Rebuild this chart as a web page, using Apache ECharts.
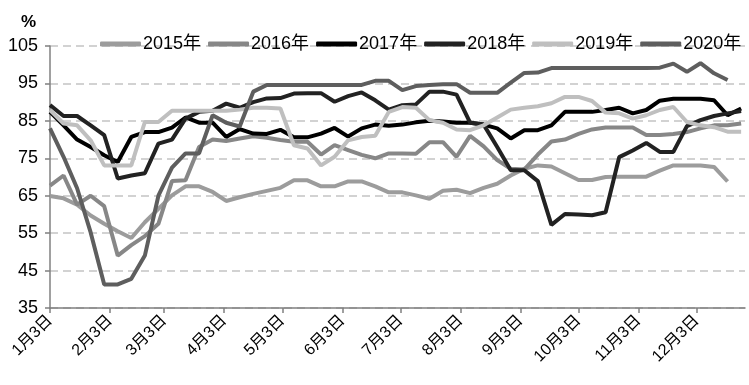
<!DOCTYPE html>
<html>
<head>
<meta charset="utf-8">
<script src="https://cdn.jsdelivr.net/npm/echarts@6/dist/echarts.min.js"></script>
<style>
  html, body { margin: 0; padding: 0; background: #fff; }
  #chart { width: 749px; height: 385px; }
</style>
</head>
<body>
<div id="chart"></div>
<script>
// weekly readings, first point on 1月3日, one point every 7 days
const years = ["2015年", "2016年", "2017年", "2018年", "2019年", "2020年"];

const tickDays = [0, 31, 59, 90, 120, 151, 181, 212, 243, 273, 304, 334];
const tickLabels = ["1月3日", "2月3日", "3月3日", "4月3日", "5月3日", "6月3日",
  "7月3日", "8月3日", "9月3日", "10月3日", "11月3日", "12月3日"];

const y2015 = [64.9, 64.3, 62.6, 59.7, 57.5, 55.5, 53.7, 57.9, 61.5, 65.1, 67.5, 67.5, 66.0,
  63.6, 64.6, 65.5, 66.3, 67.1, 69.1, 69.1, 67.5, 67.5, 68.8, 68.8, 67.5, 65.9, 65.9,
  65.1, 64.2, 66.3, 66.6, 65.7, 67.1, 68.2, 70.4, 72.2, 73.1, 72.8, 71.0, 69.2, 69.2,
  70.0, 70.1, 70.1, 70.1, 71.7, 73.1, 73.1, 73.1, 72.7, 68.8];
const y2016 = [67.7, 70.4, 62.6, 65.0, 62.2, 49.0, 51.8, 54.2, 57.5, 68.9, 69.1, 78.0, 80.0,
  79.6, 80.3, 80.9, 80.5, 79.9, 79.4, 79.4, 76.0, 78.5, 77.2, 75.9, 75.0, 76.3, 76.3,
  76.2, 79.3, 79.3, 75.4, 81.0, 78.2, 74.5, 72.2, 72.0, 76.0, 79.5, 80.0, 81.5, 82.7,
  83.2, 83.2, 83.2, 81.2, 81.2, 81.5, 82.0, 83.0, 83.8, 83.8, 84.3];
const y2017 = [87.4, 83.8, 80.0, 78.0, 75.8, 74.0, 80.7, 82.0, 82.0, 83.2, 85.9, 84.5, 84.5,
  80.7, 82.8, 81.6, 81.5, 82.6, 80.6, 80.6, 81.6, 83.1, 80.8, 83.0, 84.0, 83.7, 84.0,
  84.6, 85.0, 84.8, 84.5, 84.5, 84.0, 83.0, 80.3, 82.5, 82.5, 83.8, 87.4, 87.4, 87.4,
  87.9, 88.5, 87.0, 87.9, 90.4, 90.9, 90.9, 90.9, 90.5, 86.5, 88.3];
const y2018 = [89.2, 86.3, 86.3, 83.8, 81.2, 69.6, 70.4, 71.0, 78.9, 80.0, 85.6, 87.4, 87.7,
  89.6, 88.5, 90.0, 91.0, 91.1, 92.3, 92.4, 92.4, 90.1, 91.6, 92.6, 90.5, 88.0, 89.2,
  89.4, 92.8, 92.8, 92.0, 84.5, 84.0, 78.0, 71.8, 71.8, 68.9, 57.2, 60.1, 60.0, 59.8,
  60.6, 75.3, 77.1, 79.1, 76.7, 76.7, 83.6, 85.2, 86.3, 87.0, 87.6];
const y2019 = [87.9, 84.3, 83.8, 79.8, 73.1, 73.1, 73.1, 84.7, 84.7, 87.7, 87.7, 87.7, 87.7,
  87.7, 88.0, 88.5, 88.5, 88.3, 78.5, 77.6, 73.1, 75.4, 79.8, 80.7, 81.0, 87.4, 88.7,
  88.5, 85.2, 84.5, 82.7, 82.5, 83.8, 85.9, 88.0, 88.5, 88.9, 89.7, 91.4, 91.4, 90.3,
  87.2, 87.0, 85.6, 86.5, 87.9, 88.7, 84.7, 83.8, 83.3, 82.1, 82.1];
const y2020 = [83.0, 75.4, 67.0, 55.2, 41.3, 41.3, 42.8, 49.0, 65.0, 72.5, 76.3, 76.3, 86.5,
  84.5, 83.5, 92.8, 94.6, 94.6, 94.6, 94.6, 94.6, 94.6, 94.6, 94.6, 95.7, 95.7, 93.2,
  94.3, 94.6, 94.8, 94.8, 92.5, 92.5, 92.5, 95.2, 97.8, 97.9, 99.1, 99.1, 99.1, 99.1,
  99.1, 99.1, 99.1, 99.1, 99.2, 100.3, 98.1, 100.4, 97.7, 95.9];

const colors = ["#9c9c9c", "#878787", "#000000", "#222222", "#bfbfbf", "#5e5e5e"];
const font = "'Liberation Sans', 'Noto Sans CJK SC', sans-serif";

const toPoints = (arr) => arr.map((v, i) => [i * 7, v]);
const allSeries = [y2015, y2016, y2017, y2018, y2019, y2020];

const chart = echarts.init(document.getElementById("chart"));

const option = {
  animation: false,
  color: colors,
  textStyle: { fontFamily: font },
  title: {
    text: "%",
    left: 16,
    top: 9,
    textStyle: { fontSize: 17, fontWeight: "bold", color: "#000", fontFamily: font },
  },
  legend: {
    data: years,
    left: 95,
    top: 30,
    width: 654,
    icon: "roundRect",
    itemWidth: 41,
    itemHeight: 5,
    itemGap: 7,
    textStyle: { fontSize: 18, color: "#000", fontFamily: font, padding: [0, 0, 0, -3] },
  },
  grid: { left: 50, right: 4, top: 46, bottom: 77 },
  xAxis: {
    type: "value",
    min: 0,
    max: 359,
    splitLine: { show: false },
    axisLine: { lineStyle: { color: "#808080", width: 1.5 } },
    axisTick: {
      customValues: tickDays,
      length: 5,
      lineStyle: { color: "#808080", width: 1.5 },
    },
    axisLabel: {
      customValues: tickDays,
      formatter: (v) => tickLabels[tickDays.indexOf(v)],
      rotate: 45,
      margin: 10,
      fontSize: 16,
      color: "#000",
      fontFamily: font,
    },
  },
  yAxis: {
    type: "value",
    min: 35,
    max: 105,
    interval: 10,
    axisLine: { show: true, lineStyle: { color: "#808080", width: 1.5 } },
    axisTick: { show: true, length: 5, lineStyle: { color: "#808080", width: 1.5 } },
    axisLabel: { fontSize: 18, color: "#000", margin: 12, fontFamily: font },
    splitLine: { lineStyle: { color: "#c4c4c4", width: 1.5, type: [8, 5] } },
  },
  series: allSeries.map((arr, k) => ({
    name: years[k],
    type: "line",
    data: toPoints(arr),
    symbol: "none",
    lineStyle: { width: 4, color: colors[k] },
  })),
};

chart.setOption(option);
</script>
</body>
</html>
